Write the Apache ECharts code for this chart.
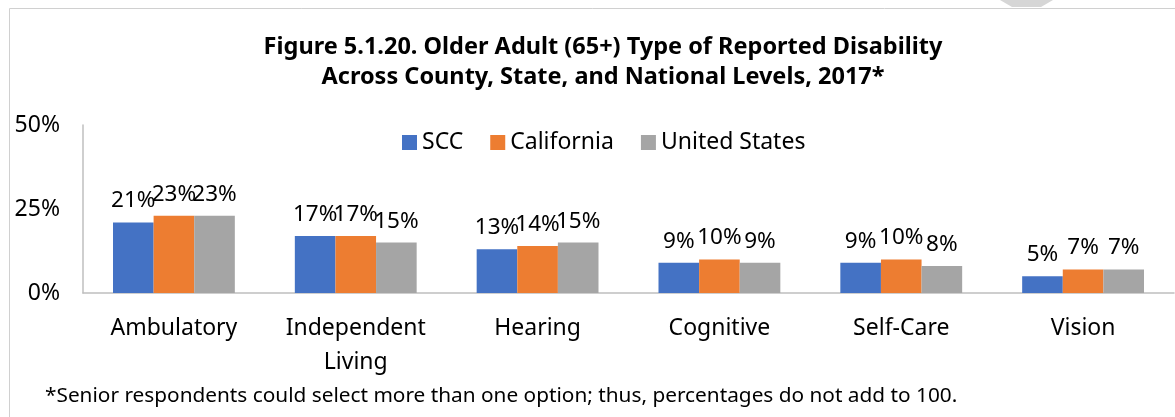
<!DOCTYPE html>
<html>
<head>
<meta charset="utf-8">
<script src="https://cdn.jsdelivr.net/npm/echarts@6/dist/echarts.min.js"></script>
<style>
  html, body { margin: 0; padding: 0; background: #fff; }
  #chart { width: 1175px; height: 417px; }
</style>
</head>
<body>
<div id="chart"></div>
<script>
const categories = ['Ambulatory', 'Independent\nLiving', 'Hearing', 'Cognitive', 'Self-Care', 'Vision'];
const scc = [21, 17, 13, 9, 9, 5];
const california = [23, 17, 14, 10, 10, 7];
const unitedStates = [23, 15, 15, 9, 8, 7];
const yTicks = [0, 25, 50];

const font = '"Noto Sans", "Open Sans", sans-serif';

function barSeries(name, data, color) {
  return {
    name: name,
    type: 'bar',
    data: data,
    barGap: '0%',
    barCategoryGap: '33%',
    itemStyle: { color: color },
    label: {
      show: true,
      position: 'top',
      distance: 10,
      formatter: '{c}%',
      color: '#000',
      fontSize: 22.5,
      fontFamily: font
    }
  };
}

const chart = echarts.init(document.getElementById('chart'), null, { renderer: 'canvas' });
chart.setOption({
  animation: false,
  backgroundColor: '#fff',
  title: {
    text: 'Figure 5.1.20. Older Adult (65+) Type of Reported Disability\nAcross County, State, and National Levels, 2017*',
    left: 598,
    textAlign: 'center',
    top: 27,
    textStyle: {
      fontFamily: font,
      fontWeight: 'bold',
      fontSize: 23.5,
      lineHeight: 30,
      color: '#000'
    }
  },
  legend: {
    top: 126,
    left: 397,
    itemWidth: 15,
    itemHeight: 15,
    itemGap: 27,
    icon: 'rect',
    textStyle: { fontFamily: font, fontSize: 23, color: '#000' },
    data: ['SCC', 'California', 'United States']
  },
  grid: { left: 83, right: 1, top: 125, bottom: 124, containLabel: false },
  xAxis: {
    type: 'category',
    data: categories,
    axisLine: { lineStyle: { color: '#bfbfbf', width: 1.5 } },
    axisTick: { show: false },
    axisLabel: {
      interval: 0,
      margin: 18,
      fontFamily: font,
      fontSize: 23,
      lineHeight: 34,
      color: '#000'
    }
  },
  yAxis: {
    type: 'value',
    min: yTicks[0],
    max: yTicks[yTicks.length - 1],
    interval: yTicks[1] - yTicks[0],
    axisLine: { show: true, lineStyle: { color: '#bfbfbf', width: 1.5 } },
    axisTick: { show: false },
    splitLine: { show: false },
    axisLabel: {
      margin: 23,
      formatter: '{value}%',
      fontFamily: font,
      fontSize: 23,
      color: '#000'
    }
  },
  graphic: [
    {
      type: 'rect',
      shape: { x: 9.5, y: 8.5, width: 1200, height: 450 },
      style: { fill: 'none', stroke: '#d0d0d0', lineWidth: 1 },
      silent: true
    },
    {
      type: 'polygon',
      shape: { points: [[1000, 0], [1053, 0], [1041, 7], [1012, 7]] },
      style: { fill: '#d6d6d6' },
      silent: true
    },
    {
      type: 'text',
      x: 45,
      y: 396,
      style: {
        text: '*Senior respondents could select more than one option; thus, percentages do not add to 100.',
        fontFamily: font,
        fontSize: 20.8,
        verticalAlign: 'middle',
        fill: '#000'
      }
    }
  ],
  series: [
    barSeries('SCC', scc, '#4472c4'),
    barSeries('California', california, '#ed7d31'),
    barSeries('United States', unitedStates, '#a5a5a5')
  ]
});
</script>
</body>
</html>
